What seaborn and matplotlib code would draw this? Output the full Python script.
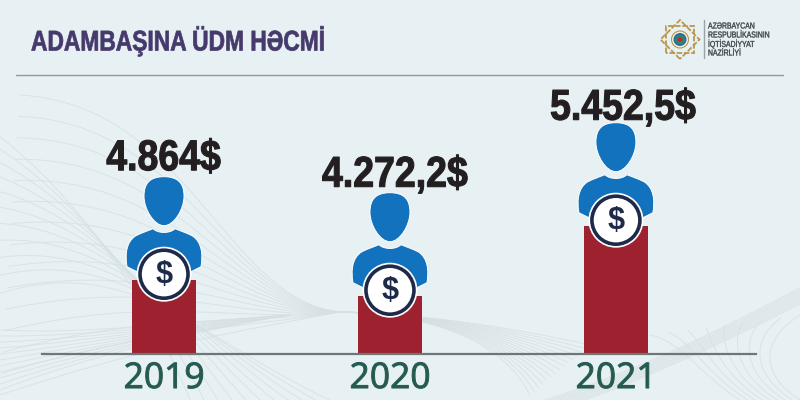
import numpy as np
import pandas as pd
import seaborn as sns
import matplotlib.pyplot as plt
from matplotlib.patches import Circle, PathPatch, RegularPolygon
from matplotlib.patheffects import AbstractPathEffect
from matplotlib.path import Path
from matplotlib.transforms import Affine2D

#%% data
years = ["2019", "2020", "2021"]
value_labels = ["4.864$", "4.272,2$", "5.452,5$"]
# the bars in the picture are not to scale with the values, so these are
# the drawn heights read off it (px above the baseline)
bar_heights = [74, 58, 128]

title = "ADAMBAŞINA ÜDM HƏCMİ"
logo_lines = ["AZƏRBAYCAN", "RESPUBLİKASININ", "İQTİSADİYYAT", "NAZİRLİYİ"]

BG = "#e7f0f3"
RED = "#9e212f"
BLUE = "#1272bd"
NAVY = "#1e2a4a"
GREEN = "#245a50"
PURPLE = "#453a6b"
GOLD = "#b9984f"
MESH = "#d6e0e4"
sans = ["Liberation Sans", "DejaVu Sans"]


class Squeeze(AbstractPathEffect):
    # no condensed font here, so narrow the real text around x0 when drawn
    def __init__(self, sx=1.0, x0=0.0, stroke=0.0):
        super().__init__()
        self.sx, self.x0, self.stroke = sx, x0, stroke

    def draw_path(self, renderer, gc, tpath, affine, rgbFace=None):
        t = affine + Affine2D().translate(-self.x0, 0).scale(self.sx, 1).translate(self.x0, 0)
        gc0 = renderer.new_gc()
        gc0.copy_properties(gc)
        if self.stroke:
            gc0.set_foreground(rgbFace)
            gc0.set_linewidth(self.stroke)
        renderer.draw_path(gc0, tpath, t, rgbFace)
        gc0.restore()


def curve(ax, p0, p1, p2, p3, **kw):
    p = Path([p0, p1, p2, p3], [Path.MOVETO, Path.CURVE4, Path.CURVE4, Path.CURVE4])
    ax.add_patch(PathPatch(p, fill=False, **kw))


#%% figure
sns.set_theme(style="white")
fig = plt.figure(figsize=(8, 4), dpi=100, facecolor=BG)

# full size axes in pixels for the background and decoration
deco = fig.add_axes([0, 0, 1, 1], zorder=0)
deco.set_xlim(0, 800)
deco.set_ylim(400, 0)
deco.axis("off")

# faint mesh, left side fan
mesh = dict(ec=MESH, lw=0.7, alpha=0.8)
for k in np.linspace(0, 1, 15):
    curve(deco, (20 - 20 * k, 95 + 300 * k), (190 - 40 * k, 105 + 240 * k), (225 + 20 * k, 300 + 30 * k), (340, 312), **mesh)
    curve(deco, (340, 312), (420, 314), (500, 325 + 10 * k), (590 - 60 * k, 345 + 50 * k), **mesh)
for k in np.linspace(0, 1, 11):
    curve(deco, (-30 + 25 * k, 115 + 180 * k), (70 + 60 * k, 180 + 70 * k), (150 + 50 * k, 300 + 40 * k), (190 + 140 * k, 400), **mesh)
    curve(deco, (0, 330 + 60 * k), (90, 335 + 20 * k), (200, 320 + 10 * k), (290, 315), **mesh)
# right bottom corner
for k in np.linspace(0, 1, 9):
    curve(deco, (800, 288 + 16 * k), (720, 330 + 15 * k), (640, 370 + 10 * k), (545 + 40 * k, 400), **mesh)
for k in np.linspace(0, 1, 9):
    curve(deco, (650 + 150 * k, 315 + 20 * (1 - k)), (680 + 80 * k, 340), (700 + 60 * k, 375), (740 + 60 * k, 400), **mesh)

deco.plot([16, 783], [75.3, 75.3], color="#8f9a9f", lw=1)
deco.text(31, 50.5, title, fontsize=20.5, fontweight="bold", color=PURPLE, family=sans, va="baseline", ha="left",
          path_effects=[Squeeze(0.80, 31, 0.5)])

# logo
for rot in (0, np.pi / 4):
    deco.add_patch(RegularPolygon((680, 39.5), 4, radius=19.5, orientation=rot, fill=False, ec=GOLD, lw=1.3, ls=(0, (3, 1))))
deco.add_patch(Circle((680, 39.5), 8.5, fc="#f3efe2", ec=GOLD, lw=0.8))
deco.add_patch(Circle((680, 39.5), 6.5, fc="#2b6f9c", ec="none"))
deco.add_patch(Circle((680, 39.5), 4.5, fc="#2d8a63", ec="none"))
deco.add_patch(Circle((680, 39.5), 2.5, fc="#c4293a", ec="none"))
deco.plot([703.5, 703.5], [20, 58], color="#9aa3a6", lw=1)
for y, line in zip([26, 35, 44, 53], logo_lines):
    deco.text(708, y, line, fontsize=6.2, color="#3c4247", family=sans, va="center",
              path_effects=[Squeeze(0.80, 708, 0.25)])

#%% bars
main = fig.add_axes([42 / 800, 46.3 / 400, 714 / 800, 353.7 / 400], zorder=1)
main.patch.set_alpha(0)
df = pd.DataFrame({"year": years, "height": bar_heights})
sns.barplot(data=df, x="year", y="height", color=RED, saturation=1, width=0.283, linewidth=0, ax=main)
main.set_xlim(-0.54, 2.62)
main.set_ylim(0, 353.7)
main.set_xlabel("")
main.set_ylabel("")
main.set_yticks([])
sns.despine(ax=main, left=True)
main.spines["bottom"].set_color("#6f7678")
main.spines["bottom"].set_linewidth(1.6)
main.tick_params(axis="x", length=0, pad=6)
for lab in main.get_xticklabels():
    lab.set_fontsize(25.5)
    lab.set_color(GREEN)
    lab.set_family(["Open Sans", "DejaVu Sans"])
    lab.set_path_effects([Squeeze(stroke=0.7)])

#%% person on top of every bar, placed from the bar top
top = fig.add_axes([0, 0, 1, 1], zorder=2)
top.set_xlim(0, 800)
top.set_ylim(400, 0)
top.axis("off")

head_v = [(0, -24.5), (14, -24.5), (20, -18), (20, -5), (20, 8), (10, 24.5), (0, 24.5),
          (-10, 24.5), (-20, 8), (-20, -5), (-20, -18), (-14, -24.5), (0, -24.5)]
body_v = [(-25, -7), (-37, -13), (-39, -25), (-38, -38), (-28, -44), (-22, -47), (-16, -49), (-11, -51),
          (-6, -46), (6, -46), (11, -51), (16, -49), (22, -47), (28, -44),
          (38, -38), (39, -25), (37, -13), (25, -7), (25, -7)]
head_c = [Path.MOVETO] + [Path.CURVE4] * 12
body_c = [Path.MOVETO, Path.LINETO] + [Path.CURVE4] * 15 + [Path.LINETO, Path.CLOSEPOLY]
text_shift = [(-0.5, -109.5), (5, -109), (7, -106)]

for i, (h, label) in enumerate(zip(bar_heights, value_labels)):
    px, py = main.transData.transform((i, h))
    cx, ty = px, 400 - py
    # head and shoulders
    top.add_patch(PathPatch(Path([(cx + a, ty - 78.5 + b) for a, b in head_v], head_c), fc=BLUE, ec="white", lw=0.7, zorder=3))
    top.add_patch(PathPatch(Path([(cx + a, ty + b) for a, b in body_v], body_c), fc=BLUE, ec="white", lw=0.7, zorder=3))
    # coin
    top.add_patch(Circle((cx, ty - 5.5), 27.5, fc="white", ec="none", zorder=4))
    top.add_patch(Circle((cx, ty - 5.5), 24, fc="white", ec=NAVY, lw=2.6, zorder=5))
    top.text(cx, ty - 5, "$", fontsize=22, fontweight="bold", color=NAVY, ha="center", va="center", family=sans, zorder=6)
    # value
    dx, dy = text_shift[i]
    top.text(cx + dx, ty + dy, label, fontsize=31, fontweight="bold", color="#231f20", ha="center", va="baseline",
             family=sans, path_effects=[Squeeze(0.87, cx + dx, 0.8)], zorder=6)

fig.savefig("out.png", dpi=100, facecolor=BG)
